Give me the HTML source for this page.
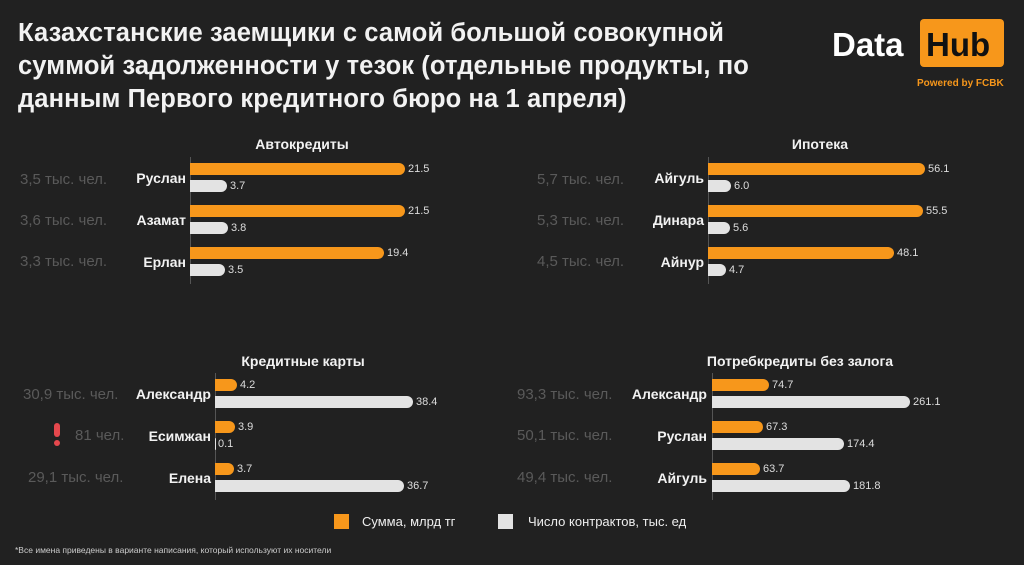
<!DOCTYPE html>
<html><head><meta charset="utf-8"><style>
body{margin:0;width:1024px;height:565px;background:#212121;position:relative;overflow:hidden;font-family:"Liberation Sans",sans-serif;}
.a{position:absolute;white-space:nowrap;}
.t{left:18px;top:17px;font-size:25.5px;font-weight:bold;color:#f2f2f2;line-height:33px;letter-spacing:0.1px;}
.h{font-size:14px;font-weight:bold;color:#f2f2f2;transform:translateX(-50%);}
.o,.g{position:absolute;height:12px;border-radius:0 6px 6px 0;}
.o{background:#f7971b;}
.g{background:#e3e3e3;}
.v{position:absolute;font-size:11px;color:#ddd;line-height:12px;}
.n{position:absolute;font-size:14px;font-weight:bold;color:#f2f2f2;text-align:right;line-height:16px;}
.l{position:absolute;font-size:15px;color:#5a5a5a;line-height:16px;}
.ax{position:absolute;width:1px;background:#555;}
</style></head><body>
<div class="a t">Казахстанские заемщики с самой большой совокупной<br>суммой задолженности у тезок (отдельные продукты, по<br>данным Первого кредитного бюро на 1 апреля)</div>
<div class="a" style="left:832px;top:25px;font-size:33px;font-weight:bold;color:#fff;line-height:40px;">Data</div>
<div class="a" style="left:920px;top:19px;width:84px;height:48px;background:#f7971b;border-radius:4px;"></div>
<div class="a" style="left:926px;top:25px;font-size:33px;font-weight:bold;color:#111;line-height:40px;">Hub</div>
<div class="a" style="left:917px;top:78px;font-size:10px;font-weight:bold;color:#f7971b;">Powered by FCBK</div>

<!-- Panel 1 -->
<div class="a h" style="left:302px;top:136px;">Автокредиты</div>
<div class="ax" style="left:190px;top:157px;height:127px;"></div>
<div class="o" style="left:190px;top:163px;width:215px"></div><div class="v" style="left:408px;top:163px">21.5</div>
<div class="g" style="left:190px;top:180px;width:37px"></div><div class="v" style="left:230px;top:180px">3.7</div>
<div class="o" style="left:190px;top:205px;width:215px"></div><div class="v" style="left:408px;top:205px">21.5</div>
<div class="g" style="left:190px;top:222px;width:38px"></div><div class="v" style="left:231px;top:222px">3.8</div>
<div class="o" style="left:190px;top:247px;width:194px"></div><div class="v" style="left:387px;top:247px">19.4</div>
<div class="g" style="left:190px;top:264px;width:35px"></div><div class="v" style="left:228px;top:264px">3.5</div>
<div class="n" style="right:838px;top:170px">Руслан</div>
<div class="n" style="right:838px;top:212px">Азамат</div>
<div class="n" style="right:838px;top:254px">Ерлан</div>
<div class="l" style="left:20px;top:172px">3,5 тыс. чел.</div>
<div class="l" style="left:20px;top:213px">3,6 тыс. чел.</div>
<div class="l" style="left:20px;top:254px">3,3 тыс. чел.</div>

<!-- Panel 2 -->
<div class="a h" style="left:820px;top:136px;">Ипотека</div>
<div class="ax" style="left:708px;top:157px;height:127px;"></div>
<div class="o" style="left:708px;top:163px;width:217px"></div><div class="v" style="left:928px;top:163px">56.1</div>
<div class="g" style="left:708px;top:180px;width:23px"></div><div class="v" style="left:734px;top:180px">6.0</div>
<div class="o" style="left:708px;top:205px;width:215px"></div><div class="v" style="left:926px;top:205px">55.5</div>
<div class="g" style="left:708px;top:222px;width:22px"></div><div class="v" style="left:733px;top:222px">5.6</div>
<div class="o" style="left:708px;top:247px;width:186px"></div><div class="v" style="left:897px;top:247px">48.1</div>
<div class="g" style="left:708px;top:264px;width:18px"></div><div class="v" style="left:729px;top:264px">4.7</div>
<div class="n" style="right:320px;top:170px">Айгуль</div>
<div class="n" style="right:320px;top:212px">Динара</div>
<div class="n" style="right:320px;top:254px">Айнур</div>
<div class="l" style="left:537px;top:172px">5,7 тыс. чел.</div>
<div class="l" style="left:537px;top:213px">5,3 тыс. чел.</div>
<div class="l" style="left:537px;top:254px">4,5 тыс. чел.</div>

<!-- Panel 3 -->
<div class="a h" style="left:303px;top:353px;">Кредитные карты</div>
<div class="ax" style="left:215px;top:373px;height:127px;"></div>
<div class="o" style="left:215px;top:379px;width:22px"></div><div class="v" style="left:240px;top:379px">4.2</div>
<div class="g" style="left:215px;top:396px;width:198px"></div><div class="v" style="left:416px;top:396px">38.4</div>
<div class="o" style="left:215px;top:421px;width:20px"></div><div class="v" style="left:238px;top:421px">3.9</div>
<div class="g" style="left:215px;top:438px;width:1px"></div><div class="v" style="left:218px;top:438px">0.1</div>
<div class="o" style="left:215px;top:463px;width:19px"></div><div class="v" style="left:237px;top:463px">3.7</div>
<div class="g" style="left:215px;top:480px;width:189px"></div><div class="v" style="left:407px;top:480px">36.7</div>
<div class="n" style="right:813px;top:386px">Александр</div>
<div class="n" style="right:813px;top:428px">Есимжан</div>
<div class="n" style="right:813px;top:470px">Елена</div>
<div class="l" style="left:23px;top:387px">30,9 тыс. чел.</div>
<div class="a" style="left:54px;top:423px;width:6px;height:14px;background:#e5484d;border-radius:3px;"></div>
<div class="a" style="left:54px;top:440px;width:6px;height:6px;background:#e5484d;border-radius:3px;"></div>
<div class="l" style="left:75px;top:428px">81 чел.</div>
<div class="l" style="left:28px;top:470px">29,1 тыс. чел.</div>

<!-- Panel 4 -->
<div class="a h" style="left:800px;top:353px;">Потребкредиты без залога</div>
<div class="ax" style="left:712px;top:373px;height:127px;"></div>
<div class="o" style="left:712px;top:379px;width:57px"></div><div class="v" style="left:772px;top:379px">74.7</div>
<div class="g" style="left:712px;top:396px;width:198px"></div><div class="v" style="left:913px;top:396px">261.1</div>
<div class="o" style="left:712px;top:421px;width:51px"></div><div class="v" style="left:766px;top:421px">67.3</div>
<div class="g" style="left:712px;top:438px;width:132px"></div><div class="v" style="left:847px;top:438px">174.4</div>
<div class="o" style="left:712px;top:463px;width:48px"></div><div class="v" style="left:763px;top:463px">63.7</div>
<div class="g" style="left:712px;top:480px;width:138px"></div><div class="v" style="left:853px;top:480px">181.8</div>
<div class="n" style="right:317px;top:386px">Александр</div>
<div class="n" style="right:317px;top:428px">Руслан</div>
<div class="n" style="right:317px;top:470px">Айгуль</div>
<div class="l" style="left:517px;top:387px">93,3 тыс. чел.</div>
<div class="l" style="left:517px;top:428px">50,1 тыс. чел.</div>
<div class="l" style="left:517px;top:470px">49,4 тыс. чел.</div>

<!-- Legend -->
<div class="a" style="left:334px;top:514px;width:15px;height:15px;background:#f7971b;"></div>
<div class="a" style="left:362px;top:514px;font-size:13px;color:#eee;">Сумма, млрд тг</div>
<div class="a" style="left:498px;top:514px;width:15px;height:15px;background:#e3e3e3;"></div>
<div class="a" style="left:528px;top:514px;font-size:13px;color:#eee;">Число контрактов, тыс. ед</div>
<div class="a" style="left:15px;top:545px;font-size:8.5px;color:#ccc;">*Все имена приведены в варианте написания, который используют их носители</div>
</body></html>
